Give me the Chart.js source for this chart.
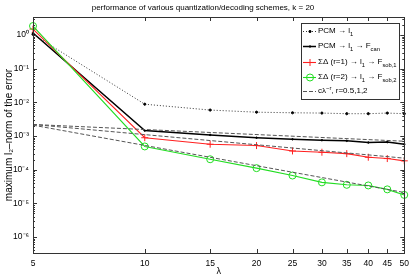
<!DOCTYPE html>
<html><head><meta charset="utf-8">
<script src="https://cdn.jsdelivr.net/npm/chart.js@4/dist/chart.umd.min.js"></script>
<style>html,body{margin:0;padding:0;background:#fff;}#wrap{width:415px;height:277px;position:relative;}canvas{display:block;}</style>
</head><body><div id="wrap"><canvas id="c" width="415" height="277" style="width:415px;height:277px"></canvas></div>
<script>
// ---- data ----
const lambda = [5, 10, 15, 20, 25, 30, 35, 40, 45, 50];
const pcmL1   = [1.05, 0.0088, 0.0059, 0.0051, 0.0049, 0.0048, 0.0046, 0.0046, 0.0048, 0.0046];
const pcmFcan = [1.15, 0.00145, 0.00108, 0.00089, 0.0008, 0.00075, 0.00072, 0.00064, 0.00066, 0.00057];
const sd1     = [1.5, 0.00089, 0.00057, 0.00052, 0.00036, 0.00033, 0.0003, 0.000234, 0.000214, 0.000183];
const sd2     = [1.85, 0.00049, 0.000204, 0.000111, 6.7e-5, 4.2e-5, 3.55e-5, 3.4e-5, 2.6e-5, 1.78e-5];
const refLambda = [5, 50];
const ref05 = [0.0022, 0.0007];
const ref1  = [0.0022, 0.00022];
const ref2  = [0.0021, 2.1e-5];
const xTicks = [5, 10, 15, 20, 25, 30, 35, 40, 45, 50];
const yTicks = [1e-6, 1e-5, 1e-4, 1e-3, 1e-2, 1e-1, 1];
const titleText = 'performance of various quantization/decoding schemes, k = 20';
const yTitle = 'maximum l\u2082\u2013norm of the error';
const xTitle = '\u03bb';
const legendItems = [
  [{t:'PCM \u2192 l'},{t:'1',sub:true}],
  [{t:'PCM \u2192 l'},{t:'1',sub:true},{t:' \u2192 F'},{t:'can',sub:true}],
  [{t:'\u03a3\u0394 (r=1) \u2192 l'},{t:'1',sub:true},{t:' \u2192 F'},{t:'sob,1',sub:true}],
  [{t:'\u03a3\u0394 (r=2) \u2192 l'},{t:'1',sub:true},{t:' \u2192 F'},{t:'sob,2',sub:true}],
  [{t:'c\u03bb'},{t:'\u2212r',sup:true},{t:', r=0.5,1,2'}]
];

const FONT = "'Liberation Sans', Arial, Helvetica, sans-serif";
const SUP = {'0':'\u2070','1':'\u00b9','2':'\u00b2','3':'\u00b3','4':'\u2074','5':'\u2075','6':'\u2076','7':'\u2077','8':'\u2078','9':'\u2079','-':'\u207b'};
function pts(xs, ys){ return xs.map((x,i)=>({x:x, y:ys[i]})); }

const frameTicks = {
  id:'frameTicks',
  afterDatasetsDraw(chart){
    const {ctx, chartArea:a, scales:{x, y}} = chart;
    ctx.save();
    ctx.strokeStyle = '#333';
    ctx.lineWidth = 1;
    ctx.beginPath();
    for (let e = -7; e <= 1; e++) {
      for (let m = 1; m <= 9; m++) {
        const v = m * Math.pow(10, e);
        const p = y.getPixelForValue(v);
        if (p < a.top - 0.5 || p > a.bottom + 0.5) continue;
        const len = (m === 1) ? 4 : 2;
        const yy = Math.round(p) + 0.5;
        ctx.moveTo(a.left, yy); ctx.lineTo(a.left + len, yy);
        ctx.moveTo(a.right, yy); ctx.lineTo(a.right - len, yy);
      }
    }
    xTicks.forEach(v => {
      const xx = Math.round(x.getPixelForValue(v)) + 0.5;
      ctx.moveTo(xx, a.bottom); ctx.lineTo(xx, a.bottom - 4);
      ctx.moveTo(xx, a.top); ctx.lineTo(xx, a.top + 4);
    });
    ctx.stroke();
    ctx.strokeRect(Math.round(a.left) + 0.5, Math.round(a.top) + 0.5, Math.round(a.right - a.left), Math.round(a.bottom - a.top));
    ctx.restore();
  }
};

const boxLegend = {
  id:'boxLegend',
  afterDraw(chart){
    const ctx = chart.ctx;
    const bx = 301, by = 23, bw = 98, bh = 76;
    ctx.save();
    ctx.fillStyle = '#fff';
    ctx.fillRect(bx, by, bw, bh);
    ctx.strokeStyle = '#333'; ctx.lineWidth = 1;
    ctx.strokeRect(bx + 0.5, by + 0.5, bw, bh);
    const rows = [31, 46, 62, 77, 91];
    rows.forEach((ry, i) => {
      const ds = chart.data.datasets[i];
      ctx.save();
      ctx.strokeStyle = ds.borderColor;
      ctx.lineWidth = ds.borderWidth;
      ctx.setLineDash(ds.borderDash || []);
      ctx.beginPath(); ctx.moveTo(303, ry + 0.5); ctx.lineTo(316, ry + 0.5); ctx.stroke();
      ctx.setLineDash([]);
      if (ds.pointRadius > 0) {
        ctx.strokeStyle = ds.pointBorderColor || ds.borderColor;
        ctx.fillStyle = ds.pointBackgroundColor || ds.borderColor;
        ctx.lineWidth = ds.pointBorderWidth || 1;
        Chart.helpers.drawPoint(ctx, {pointStyle: ds.pointStyle, radius: ds.pointRadius, rotation: 0, borderWidth: ds.pointBorderWidth || 1}, 310, ry + 0.5);
      }
      ctx.restore();
      let tx = 318;
      ctx.fillStyle = '#000';
      ctx.textBaseline = 'middle';
      legendItems[i].forEach(s => {
        const sz = (s.sub || s.sup) ? 5.8 : 8;
        ctx.font = sz + 'px ' + FONT;
        const dy = s.sub ? 3 : (s.sup ? -3 : 0);
        ctx.fillText(s.t, tx, ry + dy);
        tx += ctx.measureText(s.t).width;
      });
    });
    ctx.restore();
  }
};

new Chart(document.getElementById('c'), {
  type: 'line',
  data: {
    datasets: [
      {label:'PCM \u2192 l\u2081', data: pts(lambda, pcmL1), borderColor:'#000', borderWidth:0.8, borderDash:[1,2],
       pointStyle:'circle', pointRadius:1.1, pointBackgroundColor:'#000', pointBorderColor:'#000', pointBorderWidth:1, order:5},
      {label:'PCM \u2192 l\u2081 \u2192 F_can', data: pts(lambda, pcmFcan), borderColor:'#000', borderWidth:1.5,
       pointStyle:'circle', pointRadius:0.8, pointBackgroundColor:'#000', pointBorderColor:'#000', pointBorderWidth:1, order:4},
      {label:'\u03a3\u0394 (r=1) \u2192 l\u2081 \u2192 F_sob,1', data: pts(lambda, sd1), borderColor:'#ff2020', borderWidth:1.1,
       pointStyle:'cross', pointRadius:3.5, pointBackgroundColor:'#ff2020', pointBorderColor:'#ff2020', pointBorderWidth:1, order:3},
      {label:'\u03a3\u0394 (r=2) \u2192 l\u2081 \u2192 F_sob,2', data: pts(lambda, sd2), borderColor:'#22dd22', borderWidth:1.1,
       pointStyle:'circle', pointRadius:3.5, pointBackgroundColor:'rgba(0,0,0,0)', pointBorderColor:'#22dd22', pointBorderWidth:1, order:2},
      {label:'c\u03bb^-r, r=0.5', data: pts(refLambda, ref05), borderColor:'#555', borderWidth:1, borderDash:[4,2], pointRadius:0, order:1},
      {label:'c\u03bb^-r, r=1', data: pts(refLambda, ref1), borderColor:'#555', borderWidth:1, borderDash:[4,2], pointRadius:0, order:1},
      {label:'c\u03bb^-r, r=2', data: pts(refLambda, ref2), borderColor:'#555', borderWidth:1, borderDash:[4,2], pointRadius:0, order:1}
    ]
  },
  options: {
    responsive: false, animation: false, devicePixelRatio: 1,
    layout: {padding: {left: 0, right: 9, top: 0, bottom: 0}},
    elements: {line: {tension: 0}},
    datasets: {line: {clip: 8}},
    plugins: {
      legend: {display: false}, tooltip: {enabled: false},
      title: {display: true, text: titleText, color: '#000', font: {family: FONT, size: 8, weight: 'normal'}, padding: {top: 3, bottom: 4.4}}
    },
    scales: {
      x: {
        type: 'logarithmic', min: 5, max: 50,
        afterBuildTicks: s => { s.ticks = xTicks.map(v => ({value: v})); },
        afterFit: s => { s.height = 24; },
        grid: {display: false, drawTicks: false}, border: {display: false},
        ticks: {autoSkip: false, maxRotation: 0, padding: 6, color: '#000', font: {family: FONT, size: 8.5},
          callback: v => String(v)},
        title: {display: true, text: xTitle, color: '#000', font: {family: FONT, size: 9}, padding: {top: 0, bottom: 0}}
      },
      y: {
        type: 'logarithmic', min: Math.pow(10, -6.475), max: Math.pow(10, 0.535),
        afterBuildTicks: s => { s.ticks = yTicks.map(v => ({value: v})); },
        afterFit: s => { s.width = 33; },
        grid: {display: false, drawTicks: false}, border: {display: false},
        ticks: {padding: 4, color: '#000', font: {family: FONT, size: 8.5},
          callback: v => '10' + String(Math.round(Math.log10(v))).split('').map(c => SUP[c]).join('')},
        title: {display: true, text: yTitle, color: '#000', font: {family: FONT, size: 10}, padding: {top: 3, bottom: 0}}
      }
    }
  },
  plugins: [frameTicks, boxLegend]
});
</script>
</body></html>
